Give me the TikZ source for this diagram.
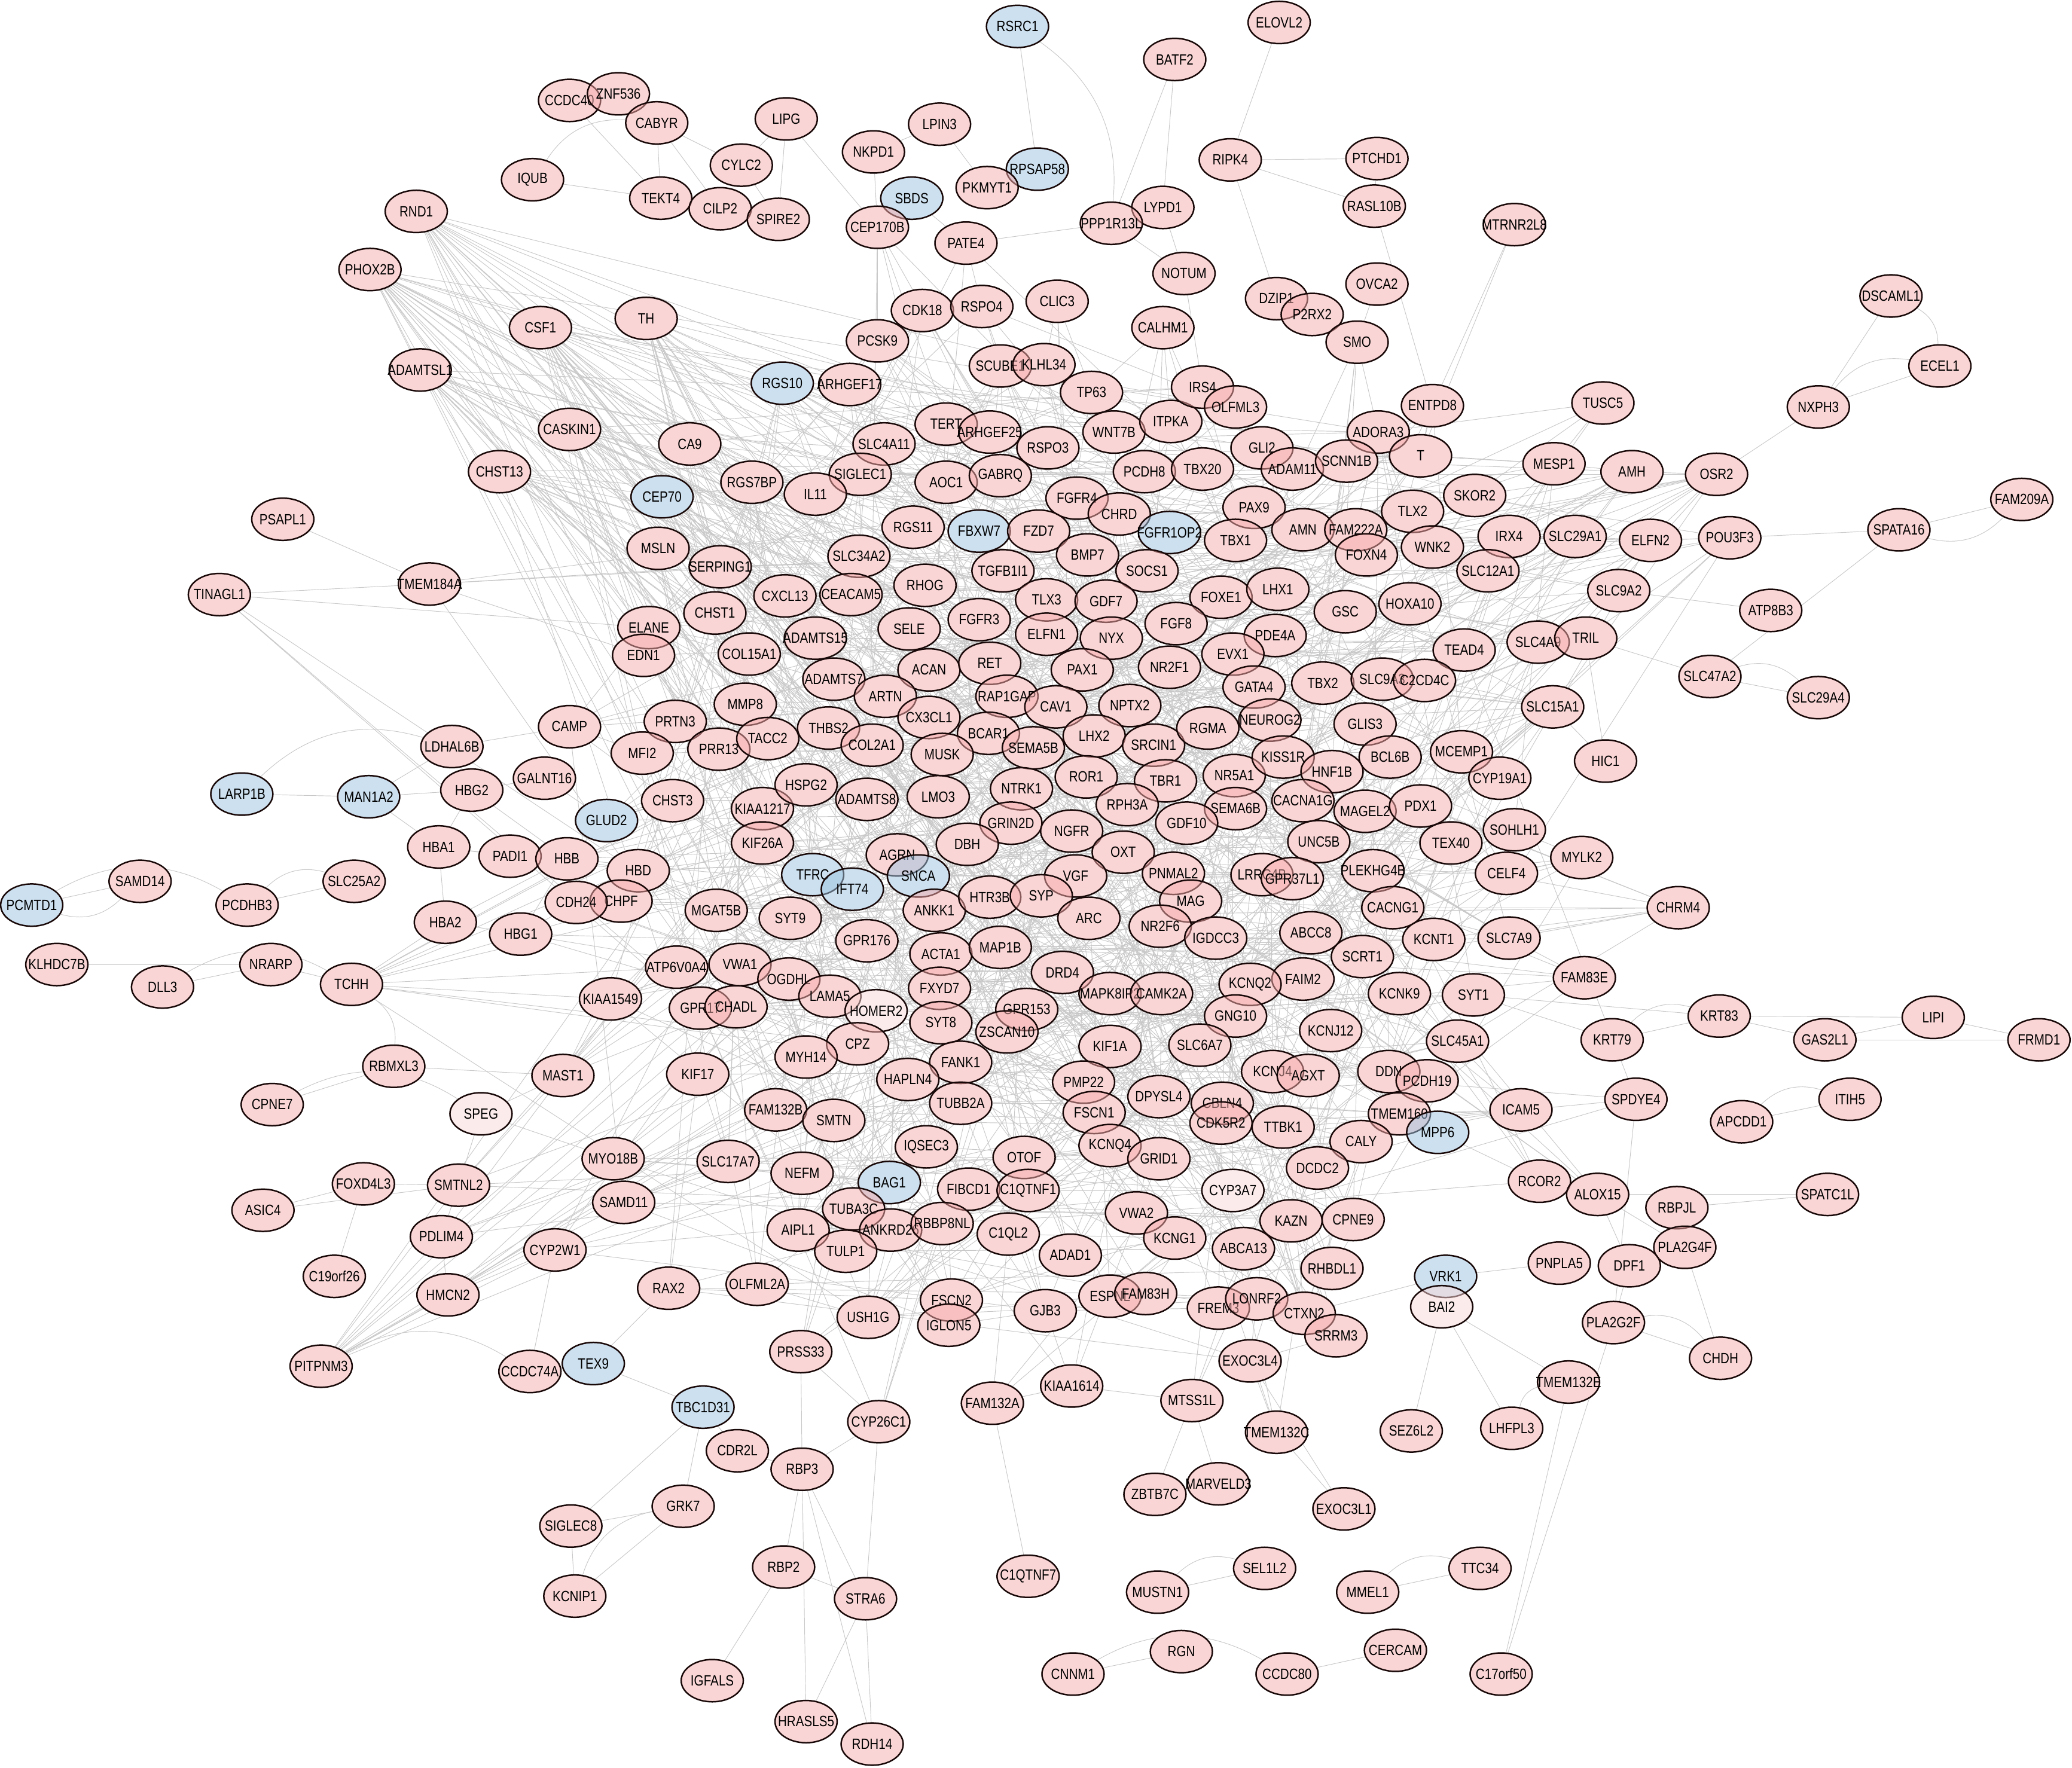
\documentclass[tikz,border=0pt]{standalone}
\usepackage{fontspec}
\setmainfont[FakeStretch=0.83]{Liberation Sans}
\usetikzlibrary{shapes.geometric}
\pgfdeclarelayer{edgelayer}
\pgfdeclarelayer{whitelayer}
\pgfsetlayers{edgelayer,whitelayer,main}
\definecolor{pinkfill}{RGB}{247,173,173}
\definecolor{bluefill}{RGB}{155,195,225}
\definecolor{lightfill}{RGB}{251,217,217}
\definecolor{edgegray}{RGB}{200,200,200}
\definecolor{borderc}{RGB}{25,8,8}
\tikzset{
 gnode/.style={ellipse, draw=borderc, line width=1.6pt, minimum width=2.35cm, minimum height=1.6cm, inner sep=0pt, fill opacity=0.5, text opacity=1, font=\fontsize{16}{16}\selectfont},
 pnode/.style={gnode, fill=pinkfill},
 bnode/.style={gnode, fill=bluefill},
 lnode/.style={gnode, fill=lightfill},
 linkline/.style={draw=edgegray, line width=0.6pt},
}
\def\corelist{TERT/716/321/pnode, ARHGEF25/749/327/pnode, WNT7B/843/327/pnode, ITPKA/886/319/pnode, TP63/826/297/pnode, SCUBE1/757/277/pnode, KLHL34/790/276/pnode, IRS4/910/293/pnode, OLFML3/935/308/pnode, SLC4A11/669/336/pnode, RSPO3/793/339/pnode, GLI2/955/339/pnode, ADORA3/1043/327/pnode, T/1075/345/pnode, ADAM11/978/355/pnode, SCNN1B/1019/349/pnode,
AOC1/716/365/pnode, GABRQ/757/360/pnode, SIGLEC1/651/359/pnode, RGS7BP/569/365/pnode, IL11/617/374/pnode, PCDH8/866/357/pnode, TBX20/910/355/pnode, TLX2/1069/387/pnode, SKOR2/1116/375/pnode, FGFR4/815/377/pnode, CHRD/847/389/pnode, PAX9/949/384/pnode,
RGS11/691/399/pnode, FBXW7/741/402/bnode, FZD7/786/402/pnode, FGFR1OP2/885/403/bnode, BMP7/823/420/pnode, AMN/986/401/pnode, FAM222A/1026/401/pnode, FOXN4/1034/420/pnode, TBX1/935/409/pnode, WNK2/1084/414/pnode, IRX4/1142/406/pnode, SLC34A2/650/421/pnode, SERPING1/545/429/pnode, SOCS1/868/432/pnode, TGFB1I1/759/432/pnode, SLC12A1/1126/432/pnode,
CHST1/541/464/pnode, CXCL13/594/451/pnode, CEACAM5/644/450/pnode, RHOG/700/443/pnode, TLX3/792/454/pnode, GDF7/837/455/pnode, FOXE1/924/452/pnode, LHX1/967/446/pnode, HOXA10/1067/457/pnode, GSC/1018/463/pnode, ELANE/491/475/pnode, FGFR3/741/469/pnode, FGF8/890/472/pnode,
EDN1/487/496/pnode, SELE/688/476/pnode, ELFN1/792/480/pnode, NYX/841/483/pnode, PDE4A/965/481/pnode, EVX1/933/495/pnode, ADAMTS15/617/483/pnode, COL15A1/567/495/pnode, TEAD4/1108/492/pnode, SLC4A9/1164/486/pnode, TRIL/1200/483/pnode,
ACAN/703/507/pnode, RET/749/502/pnode, PAX1/819/507/pnode, NR2F1/885/505/pnode, ADAMTS7/631/514/pnode, ARTN/670/527/pnode, RAP1GAP/762/527/pnode, CAV1/799/535/pnode, NPTX2/855/534/pnode, GATA4/949/520/pnode, TBX2/1001/517/pnode, SLC9A3/1046/514/pnode, C2CD4C/1078/515/pnode, MMP8/564/533/pnode, SLC15A1/1175/535/pnode,
THBS2/627/551/pnode, CX3CL1/703/543/pnode, BCAR1/748/555/pnode, LHX2/828/557/pnode, SRCIN1/873/564/pnode, RGMA/914/551/pnode, NEUROG2/961/545/pnode, GLIS3/1033/548/pnode, PRTN3/511/546/pnode, PRR13/544/567/pnode, TACC2/581/559/pnode, COL2A1/660/564/pnode, MUSK/713/571/pnode, SEMA5B/782/566/pnode, BCL6B/1052/573/pnode, MCEMP1/1106/569/pnode, MFI2/486/570/pnode,
CYP19A1/1135/589/pnode, CHST3/509/606/pnode, KIAA1217/577/612/pnode, HSPG2/610/594/pnode, ADAMTS8/656/605/pnode, LMO3/710/603/pnode, NTRK1/773/597/pnode, ROR1/822/588/pnode, TBR1/882/591/pnode, RPH3A/853/609/pnode, NR5A1/934/587/pnode, KISS1R/971/573/pnode, HNF1B/1008/584/pnode, CACNA1G/986/606/pnode, SEMA6B/935/612/pnode, MAGEL2/1033/614/pnode, PDX1/1075/610/pnode,
KIF26A/577/638/pnode, GRIN2D/765/623/pnode, NGFR/811/629/pnode, GDF10/898/623/pnode, UNC5B/998/637/pnode, TEX40/1098/638/pnode, SOHLH1/1146/628/pnode, HBD/483/659/pnode, AGRN/679/647/pnode, DBH/732/639/pnode, OXT/850/645/pnode, CELF4/1140/661/pnode, TFRC/615/662/bnode, IFT74/645/673/bnode, SNCA/695/663/bnode, VGF/814/663/pnode, PNMAL2/888/661/pnode, LRRC4B/955/662/pnode, GPR37L1/978/665/pnode, PLEKHG4B/1039/659/pnode,
CHPF/470/682/pnode, MGAT5B/542/689/pnode, SYT9/598/695/pnode, ANKK1/707/689/pnode, HTR3B/749/679/pnode, SYP/788/678/pnode, ARC/824/695/pnode, MAG/901/682/pnode, NR2F6/878/701/pnode, IGDCC3/920/710/pnode, CACNG1/1054/687/pnode, ABCC8/992/706/pnode, KCNT1/1085/711/pnode, SLC7A9/1142/710/pnode, GPR176/656/712/pnode, ACTA1/712/722/pnode, MAP1B/757/717/pnode,
SCRT1/1031/724/pnode, ATP6V0A4/512/732/pnode, VWA1/560/730/pnode, OGDHL/597/741/pnode, DRD4/804/736/pnode, FAIM2/986/741/pnode, KCNQ2/946/745/pnode, MAPK8IP2/840/752/pnode, CAMK2A/879/752/pnode, LAMA5/628/754/pnode, FXYD7/711/748/pnode, GPR17/530/763/pnode, CHADL/557/762/pnode, HOMER2/663/765/lnode, GNG10/935/769/pnode, KCNK9/1059/752/pnode, SYT1/1115/753/pnode, GPR153/777/764/pnode, ZSCAN10/762/781/pnode, SYT8/712/774/pnode, KCNJ12/1007/780/pnode,
CPZ/649/790/pnode, MYH14/610/800/pnode, SLC6A7/908/791/pnode, KIF17/528/813/pnode, FANK1/727/804/pnode, KIF1A/840/792/pnode, KCNJ4/963/811/pnode, AGXT/990/814/pnode, DDN/1051/811/pnode, PCDH19/1080/818/pnode, SLC45A1/1103/788/pnode, PMP22/820/819/pnode, DPYSL4/877/830/pnode, HAPLN4/687/817/pnode, TUBB2A/727/835/pnode,
FAM132B/587/840/pnode, SMTN/631/848/pnode, CBLN4/925/835/pnode, CDK5R2/924/850/pnode, TTBK1/971/853/pnode, TMEM160/1059/843/pnode, ICAM5/1151/840/pnode, FSCN1/828/842/pnode, MPP6/1088/857/bnode, CALY/1030/864/pnode, DCDC2/997/884/pnode, KCNQ4/840/867/pnode, GRID1/877/877/pnode, IQSEC3/701/868/pnode, OTOF/775/876/pnode, SLC17A7/551/879/pnode, NEFM/607/888/pnode, MYO18B/464/877/pnode,
CYP3A7/933/901/lnode, BAG1/673/895/bnode, FIBCD1/733/900/pnode, C1QTNF1/778/901/pnode, TUBA3C/646/915/pnode, ANKRD26/674/931/pnode, RBBP8NL/713/926/pnode, AIPL1/604/931/pnode, C1QL2/763/934/pnode, TULP1/640/947/pnode, VWA2/860/918/pnode, KCNG1/889/937/pnode, ABCA13/941/945/pnode, KAZN/977/924/pnode, CPNE9/1024/923/pnode, RHBDL1/1008/960/pnode, ADAD1/810/950/pnode, SAMD11/472/910/pnode,
OLFML2A/573/972/pnode, FSCN2/720/984/pnode, IGLON5/718/1003/pnode, USH1G/657/997/pnode, RAX2/506/975/pnode, GJB3/791/992/pnode, ESPNL/840/981/pnode, FAM83H/867/979/pnode, FREM3/922/990/pnode, LONRF2/951/983/pnode, CTXN2/987/994/pnode, SRRM3/1011/1011/pnode}
\def\perilist{RSRC1/770/20/bnode, ELOVL2/968/17/pnode, BATF2/889/45/pnode, CCDC40/431/76/pnode, ZNF536/468/71/pnode, CABYR/497/93/pnode, LIPG/595/90/pnode, LPIN3/711/94/pnode, NKPD1/661/115/pnode, IQUB/403/136/pnode, RIPK4/931/121/pnode, PTCHD1/1042/120/pnode, CYLC2/561/125/pnode, RPSAP58/785/128/bnode, TEKT4/500/150/pnode, SBDS/690/150/bnode, PKMYT1/747/142/pnode, CILP2/545/158/pnode, SPIRE2/589/166/pnode, RASL10B/1040/156/pnode, LYPD1/880/157/pnode, PPP1R13L/841/169/pnode, CEP170B/664/172/pnode, RND1/315/160/pnode, MTRNR2L8/1146/170/pnode, PATE4/731/184/pnode, PHOX2B/280/204/pnode, NOTUM/896/207/pnode, OVCA2/1042/215/pnode, DSCAML1/1431/224/pnode, DZIP1/966/226/pnode, P2RX2/993/238/pnode, CLIC3/800/228/pnode, CDK18/698/235/pnode, RSPO4/743/232/pnode, CALHM1/880/248/pnode, CSF1/409/248/pnode, TH/489/241/pnode, SMO/1027/259/pnode, PCSK9/664/258/pnode, ADAMTSL1/318/280/pnode, ECEL1/1468/277/pnode, RGS10/592/290/bnode, ARHGEF17/643/291/pnode, NXPH3/1376/308/pnode, ENTPD8/1084/307/pnode, TUSC5/1213/305/pnode, CASKIN1/431/325/pnode, CA9/522/336/pnode, CHST13/378/357/pnode, MESP1/1176/351/pnode, AMH/1235/357/pnode, OSR2/1299/359/pnode, CEP70/501/376/bnode, FAM209A/1530/378/pnode, PSAPL1/214/393/pnode, SLC29A1/1192/406/pnode, ELFN2/1249/409/pnode, POU3F3/1309/407/pnode, SPATA16/1437/401/pnode, MSLN/498/415/pnode, ATP8B3/1340/462/pnode, TMEM184A/325/442/pnode, TINAGL1/166/450/pnode, SLC9A2/1225/447/pnode, SLC47A2/1294/512/pnode, SLC29A4/1376/528/pnode, CAMP/431/550/pnode, HIC1/1215/576/pnode, LDHAL6B/342/565/pnode, HBG2/357/598/pnode, GALNT16/412/589/pnode, LARP1B/183/601/bnode, MAN1A2/279/603/bnode, GLUD2/459/621/bnode, HBA1/332/641/pnode, PADI1/386/648/pnode, HBB/429/650/pnode, MYLK2/1197/649/pnode, PCMTD1/24/685/bnode, SAMD14/106/667/pnode, PCDHB3/187/685/pnode, SLC25A2/268/667/pnode, CDH24/436/683/pnode, HBA2/337/698/pnode, HBG1/394/707/pnode, CHRM4/1270/687/pnode, KLHDC7B/43/730/pnode, NRARP/205/730/pnode, DLL3/123/747/pnode, TCHH/266/745/pnode, KIAA1549/462/756/pnode, FAM83E/1199/740/pnode, KRT83/1301/769/pnode, LIPI/1463/770/pnode, GAS2L1/1381/787/pnode, FRMD1/1543/787/pnode, KRT79/1220/787/pnode, RBMXL3/298/807/pnode, MAST1/426/814/pnode, SPDYE4/1238/832/pnode, ITIH5/1400/832/pnode, APCDD1/1318/849/pnode, CPNE7/206/836/pnode, SPEG/364/843/lnode, RCOR2/1165/894/pnode, ALOX15/1209/904/pnode, SPATC1L/1383/904/pnode, RBPJL/1269/914/pnode, FOXD4L3/275/896/pnode, SMTNL2/347/897/pnode, ASIC4/199/916/pnode, PDLIM4/334/936/pnode, CYP2W1/420/946/pnode, PLA2G4F/1275/944/pnode, PNPLA5/1180/956/pnode, DPF1/1233/958/pnode, C19orf26/253/966/pnode, VRK1/1094/966/bnode, BAI2/1091/989/lnode, HMCN2/339/980/pnode, PLA2G2F/1221/1001/pnode, CHDH/1302/1028/pnode, PRSS33/606/1023/pnode, PITPNM3/243/1034/pnode, CCDC74A/401/1038/pnode, TEX9/449/1032/bnode, EXOC3L4/946/1030/pnode, TMEM132E/1187/1046/pnode, SEZ6L2/1068/1083/pnode, LHFPL3/1144/1081/pnode, FAM132A/751/1062/pnode, KIAA1614/811/1049/pnode, MTSS1L/902/1060/pnode, TBC1D31/532/1065/bnode, CYP26C1/665/1076/pnode, TMEM132C/966/1084/pnode, CDR2L/558/1098/pnode, RBP3/607/1112/pnode, ZBTB7C/874/1131/pnode, MARVELD3/922/1123/pnode, EXOC3L1/1017/1142/pnode, GRK7/517/1140/pnode, SIGLEC8/432/1155/pnode, RBP2/593/1186/pnode, STRA6/655/1210/pnode, C1QTNF7/778/1193/pnode, SEL1L2/957/1187/pnode, MUSTN1/876/1205/pnode, MMEL1/1035/1205/pnode, TTC34/1120/1187/pnode, KCNIP1/435/1208/pnode, RGN/894/1250/pnode, CNNM1/812/1267/pnode, CCDC80/974/1267/pnode, CERCAM/1056/1249/pnode, C17orf50/1136/1267/pnode, IGFALS/539/1272/pnode, HRASLS5/610/1303/pnode, RDH14/660/1320/pnode}
\begin{document}
\begin{tikzpicture}[x=0.05cm,y=-0.05cm]
\useasboundingbox (0,0) rectangle (1568,1338);
% nodes
\foreach \nm/\x/\y/\st [count=\i] in \corelist {\node[\st, alias=c\i] (\nm) at (\x,\y) {\makebox[0pt]{\nm}}; \xdef\ncore{\i}}
\foreach \nm/\x/\y/\st in \perilist {\node[\st] (\nm) at (\x,\y) {\makebox[0pt]{\nm}};}
% white under-layer
\begin{pgfonlayer}{whitelayer}
\foreach \nm/\x/\y/\st in \corelist {\fill[white] (\nm.center) ellipse (1.175cm and 0.8cm);}
\foreach \nm/\x/\y/\st in \perilist {\fill[white] (\nm.center) ellipse (1.175cm and 0.8cm);}
\end{pgfonlayer}
% edges
\begin{pgfonlayer}{edgelayer}
\fill[white] (0,0) rectangle (1568,1338);
\foreach \i in {1,...,\ncore} {
  \pgfmathtruncatemacro\ja{mod(\i+2,\ncore)+1}
  \pgfmathtruncatemacro\jb{mod(\i*7+5,\ncore)+1}
  \pgfmathtruncatemacro\jc{mod(\i*11+17,\ncore)+1}
  \ifnum\ja=\i\relax\else\draw[linkline] (c\i) -- (c\ja);\fi
  \ifnum\jb=\i\relax\else\draw[linkline] (c\i) -- (c\jb);\fi
  \ifnum\jc=\i\relax\else\draw[linkline] (c\i) -- (c\jc);\fi
}
\foreach \f/\n [count=\fidx] in {RND1/20, PHOX2B/25, CSF1/25, TH/20, ADAMTSL1/18, CASKIN1/15, CHST13/15, CA9/10, CEP70/12, RGS10/12, MSLN/10, TCHH/10, PITPNM3/8, HMCN2/5, PDLIM4/5, CYP2W1/6, SMTNL2/5, KIAA1549/8, MAST1/6, OSR2/12, AMH/10, MESP1/8, POU3F3/8, ELFN2/8, SLC29A1/8, SLC9A2/6, CHRM4/6, FAM83E/5, MYLK2/5, SPDYE4/4, RCOR2/4, ALOX15/4, PCSK9/8, CDK18/6, CEP170B/5, ARHGEF17/8, CAMP/6, GLUD2/6, TUSC5/3, ENTPD8/5, SMO/4, CALHM1/4, CLIC3/3, RSPO4/4, PATE4/3, PRSS33/5, CYP26C1/4, KIAA1614/4, FAM132A/3, EXOC3L4/4, TMEM132C/3, MTSS1L/3, HBB/4, CDH24/4, HBG1/3, TINAGL1/3, TMEM184A/3} {
  \foreach \k in {1,...,\n} {
    \pgfmathtruncatemacro\t{mod(\fidx*37+\k*23,\ncore)+1}
    \draw[linkline] (\f) -- (c\t);
  }
}
\foreach \a/\b in {RSRC1/RPSAP58, ELOVL2/RIPK4, BATF2/LYPD1, BATF2/PPP1R13L, CCDC40/ZNF536, ZNF536/CABYR, CCDC40/TEKT4, CABYR/TEKT4, IQUB/TEKT4, CABYR/CILP2, CABYR/CYLC2, LIPG/CYLC2, LIPG/CEP170B, LIPG/SPIRE2, NKPD1/LPIN3, NKPD1/CEP170B, LPIN3/PKMYT1, PKMYT1/RPSAP58, SBDS/CEP170B, SBDS/PATE4, CILP2/SPIRE2, TEKT4/CILP2, CYLC2/SPIRE2, PATE4/RSPO4, PATE4/PPP1R13L, PPP1R13L/LYPD1, LYPD1/NOTUM, PPP1R13L/NOTUM, RIPK4/PTCHD1, RIPK4/RASL10B, RIPK4/DZIP1, PTCHD1/RASL10B, RASL10B/ENTPD8, MTRNR2L8/ENTPD8, MTRNR2L8/T, OVCA2/SMO, DZIP1/P2RX2, P2RX2/SMO, SMO/ADORA3, CALHM1/ITPKA, CALHM1/TP63, NOTUM/IRS4, CLIC3/TP63, CDK18/PCSK9, CDK18/RSPO4, PCSK9/ARHGEF17, RGS10/ARHGEF17, RSPO4/SCUBE1, CEP170B/PCSK9, DSCAML1/NXPH3, ECEL1/NXPH3, NXPH3/OSR2, TUSC5/MESP1, TUSC5/ADORA3, ENTPD8/T, ENTPD8/SCNN1B, MESP1/T, AMH/MESP1, OSR2/AMH, FAM209A/SPATA16, SPATA16/POU3F3, ATP8B3/SLC9A2, SLC47A2/SLC29A4, SLC47A2/TRIL, POU3F3/ELFN2, ELFN2/SLC29A1, SLC29A1/IRX4, SLC9A2/SLC12A1, HIC1/SLC15A1, HIC1/TRIL, PSAPL1/TMEM184A, TINAGL1/TMEM184A, TINAGL1/ELANE, TMEM184A/EDN1, TMEM184A/SERPING1, LARP1B/MAN1A2, MAN1A2/HBG2, MAN1A2/LDHAL6B, MAN1A2/HBA1, LDHAL6B/HBG2, LDHAL6B/CAMP, HBG2/GALNT16, HBG2/HBB, HBG2/HBA1, HBA1/PADI1, PADI1/HBB, HBB/HBD, HBA1/HBA2, HBA2/HBG1, HBG1/HBB, HBA2/HBB, HBD/CDH24, CDH24/CHPF, HBG1/CDH24, HBA1/HBD, GALNT16/GLUD2, CAMP/MFI2, CAMP/ELANE, GLUD2/CHST3, GLUD2/HBB, PCMTD1/SAMD14, PCDHB3/SLC25A2, KLHDC7B/NRARP, DLL3/NRARP, NRARP/TCHH, TCHH/KIAA1549, TCHH/HBA2, CPNE7/RBMXL3, RBMXL3/MAST1, SPEG/MAST1, SPEG/MYO18B, MAST1/KIAA1549, FOXD4L3/C19orf26, FOXD4L3/SMTNL2, ASIC4/FOXD4L3, SMTNL2/PDLIM4, PDLIM4/HMCN2, CYP2W1/HMCN2, PITPNM3/HMCN2, PITPNM3/PDLIM4, PITPNM3/CYP2W1, PITPNM3/SMTNL2, CCDC74A/TEX9, CCDC74A/CYP2W1, TEX9/TBC1D31, TEX9/RAX2, TBC1D31/GRK7, TBC1D31/CDR2L, GRK7/SIGLEC8, SIGLEC8/KCNIP1, KCNIP1/GRK7, TBC1D31/SIGLEC8, CDR2L/RBP3, RBP3/RBP2, RBP3/STRA6, RBP2/STRA6, RBP2/IGFALS, STRA6/HRASLS5, STRA6/RDH14, RBP3/RDH14, RBP3/HRASLS5, CYP26C1/RBP3, CYP26C1/STRA6, PRSS33/CYP26C1, PRSS33/RBP3, FAM132A/C1QTNF7, FAM132A/KIAA1614, KIAA1614/MTSS1L, MTSS1L/ZBTB7C, MTSS1L/MARVELD3, ZBTB7C/MARVELD3, TMEM132C/EXOC3L4, EXOC3L4/EXOC3L1, TMEM132C/EXOC3L1, EXOC3L4/SRRM3, MUSTN1/SEL1L2, CNNM1/RGN, CCDC80/CERCAM, MMEL1/TTC34, C17orf50/TMEM132E, C17orf50/PLA2G2F, TMEM132E/BAI2, BAI2/VRK1, BAI2/LHFPL3, BAI2/SEZ6L2, VRK1/PNPLA5, VRK1/CTXN2, PLA2G2F/CHDH, PLA2G2F/DPF1, PLA2G4F/DPF1, PLA2G4F/CHDH, PLA2G4F/RBPJL, PLA2G4F/ALOX15, ALOX15/RCOR2, ALOX15/DPF1, RBPJL/SPATC1L, ALOX15/SPATC1L, RCOR2/MPP6, ICAM5/TMEM160, SPDYE4/PLA2G2F, APCDD1/ITIH5, KRT79/KRT83, KRT83/GAS2L1, GAS2L1/LIPI, LIPI/FRMD1, GAS2L1/FRMD1, KRT83/SYT1, LIPI/KRT83, FAM83E/SLC7A9, CHRM4/KCNT1, CHRM4/SLC7A9, CHRM4/CACNG1, MYLK2/CELF4, MYLK2/SOHLH1, SPATA16/SLC47A2, KRT79/SYT1, SPEG/SMTNL2, ASIC4/SMTNL2} {\draw[linkline] (\a) -- (\b);}
\foreach \a/\b in {RSRC1/PPP1R13L, IQUB/CABYR, DSCAML1/ECEL1, SLC47A2/SLC29A4, LARP1B/LDHAL6B, PCMTD1/PCDHB3, PCDHB3/SLC25A2, DLL3/TCHH, TCHH/RBMXL3, CPNE7/SPEG, PITPNM3/CCDC74A, MUSTN1/SEL1L2, CNNM1/CCDC80, MMEL1/TTC34, LHFPL3/TMEM132E, APCDD1/ITIH5, KRT79/KRT83, FAM209A/SPATA16, NXPH3/ECEL1, PLA2G2F/CHDH, SAMD14/PCMTD1, KCNIP1/GRK7} {\draw[linkline] (\a) to[bend left=30] (\b);}
\end{pgfonlayer}
\end{tikzpicture}
\end{document}
